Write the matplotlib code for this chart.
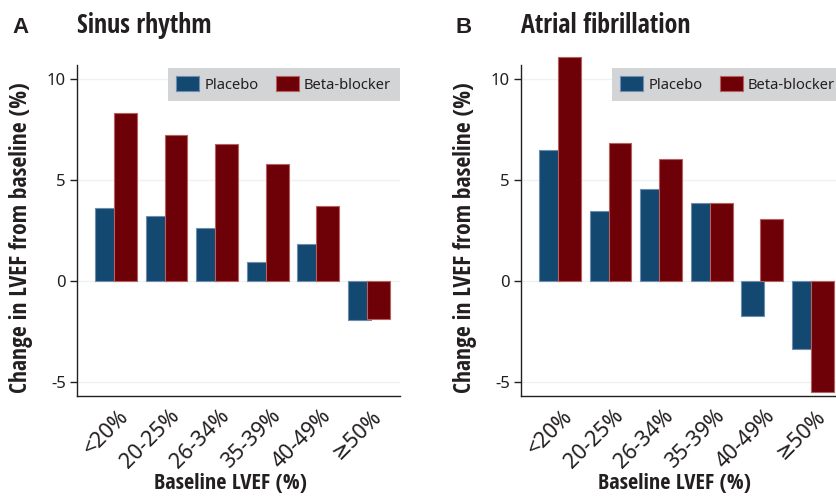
import matplotlib.pyplot as plt
import matplotlib.transforms as mtransforms
from matplotlib.patches import Patch
import numpy as np

categories = ['<20%', '20-25%', '26-34%', '35-39%', '40-49%', '≥50%']

# change in LVEF from baseline (%)
sinus_placebo = [3.6, 3.2, 2.65, 0.95, 1.85, -1.9]
sinus_beta = [8.3, 7.25, 6.8, 5.8, 3.7, -1.85]
af_placebo = [6.5, 3.45, 4.55, 3.85, -1.7, -3.35]
af_beta = [11.1, 6.85, 6.05, 3.85, 3.05, -5.5]

panels = [
    ('A', 'Sinus rhythm', sinus_placebo, sinus_beta),
    ('B', 'Atrial fibrillation', af_placebo, af_beta),
]

blue = '#134870'
red = '#6e0008'
blue_edge = '#6f8db0'
red_edge = '#b8605e'
grid_col = '#ecf3f2'
text_col = '#231f20'

# condensed bold for titles and axis labels
bold_font = dict(family=['Open Sans Condensed', 'DejaVu Sans'], fontweight='bold',
                 fontstretch='condensed')
reg_font = ['Noto Sans', 'DejaVu Sans']

fig = plt.figure(figsize=(8.37, 5.0), dpi=100)

lefts = [77 / 837, 521 / 837]
x = np.arange(len(categories))

for (letter, title, plac, beta), left in zip(panels, lefts):
    ax = fig.add_axes([left, 0.208, 0.386, 0.662])
    ax.set_xlim(-0.77, 5.62)
    ax.set_ylim(-5.68, 10.69)

    for y in [-5, 0, 5, 10]:
        ax.axhline(y, color=grid_col, lw=1.0, zorder=0)

    # tall bars may run past the top of the axis
    ax.bar(x - 0.19, plac, width=0.45, color=blue, edgecolor=blue_edge,
           linewidth=0.8, zorder=2, clip_on=False)
    ax.bar(x + 0.19, beta, width=0.45, color=red, edgecolor=red_edge,
           linewidth=0.8, zorder=3, clip_on=False)

    for side in ['top', 'right']:
        ax.spines[side].set_visible(False)
    for side in ['left', 'bottom']:
        ax.spines[side].set_color(text_col)
        ax.spines[side].set_linewidth(1.0)

    ax.set_yticks([-5, 0, 5, 10])
    ax.set_yticklabels(['-5', '0', '5', '10'], family=reg_font, fontsize=12,
                       color=text_col)
    ax.tick_params(axis='y', length=5, width=1, color=text_col, pad=3)
    ax.tick_params(axis='x', length=0, pad=7)

    ax.set_xticks(x)
    ax.set_xticklabels(categories, rotation=45, ha='right', va='top',
                       rotation_mode='anchor', family=reg_font, fontsize=15.5,
                       color=text_col)
    shift = mtransforms.ScaledTranslation(2 / 100, 0, fig.dpi_scale_trans)
    for lab in ax.get_xticklabels():
        lab.set_transform(lab.get_transform() + shift)

    ax.set_ylabel('Change in LVEF from baseline (%)', fontsize=17,
                  color=text_col, **bold_font)
    ax.yaxis.set_label_coords(-44 / 323, 0.477)
    ax.set_xlabel('Baseline LVEF (%)', fontsize=16, color=text_col, **bold_font)
    ax.xaxis.set_label_coords(0.475, -0.232)

    handles = [
        Patch(facecolor=blue, edgecolor=blue_edge, linewidth=0.8, label='Placebo'),
        Patch(facecolor=red, edgecolor=red_edge, linewidth=0.8, label='Beta-blocker'),
    ]
    leg = ax.legend(handles=handles, loc='upper right', bbox_to_anchor=(1.0, 0.992),
                    borderaxespad=0, ncol=2, frameon=True, fancybox=False,
                    handlelength=1.55, handleheight=1.1, handletextpad=0.35,
                    columnspacing=1.2, borderpad=0.6,
                    prop={'family': reg_font, 'size': 10.6})
    leg.get_frame().set_facecolor('#d3d4d6')
    leg.get_frame().set_edgecolor('none')
    leg.get_frame().set_alpha(1)
    for t in leg.get_texts():
        t.set_color(text_col)

    fig.text(left - 65 / 837, 1 - 33 / 500, letter, family=['Liberation Sans', 'DejaVu Sans'],
             fontweight='bold', fontsize=16, color=text_col, va='baseline', ha='left')
    fig.text(left, 1 - 33 / 500, title, fontsize=18.7, color=text_col,
             va='baseline', ha='left', **bold_font)

fig.savefig('out.png', dpi=100)
